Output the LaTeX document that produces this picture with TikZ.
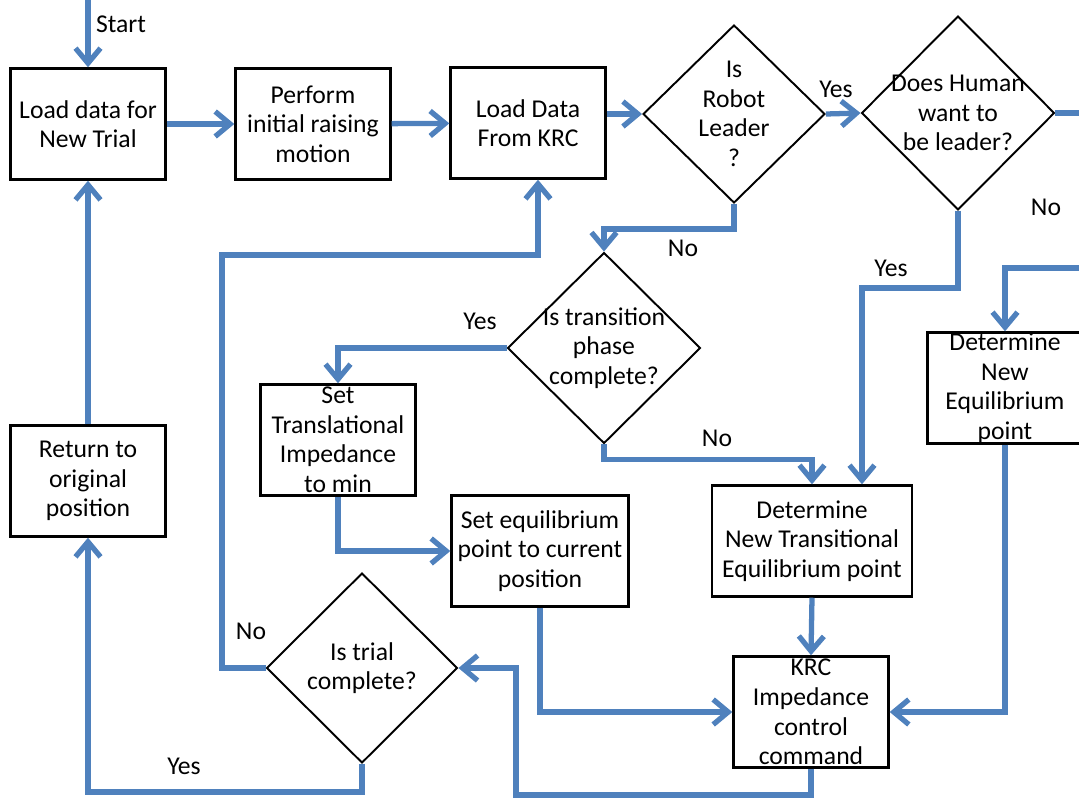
\documentclass[tikz,border=0pt]{standalone}
\usepackage{fontspec}
\setmainfont{Carlito}
\usetikzlibrary{shapes.geometric,arrows.meta}
\definecolor{flowblue}{RGB}{79,129,189}

\tikzset{
    procbox/.style={draw=black, line width=1.4pt, rectangle, inner sep=0pt, align=center,
        minimum width=3.1cm, minimum height=2.22cm, font=\fontsize{14.6pt}{16.8pt}\selectfont},
    decision/.style={draw=black, line width=1.1pt, diamond, inner sep=0pt},
    flow/.style={draw=flowblue, line width=3pt,
        -{Straight Barb[length=3mm, width=5mm]}},
    branch/.style={font=\fontsize{14.6pt}{16.8pt}\selectfont, inner sep=0pt},
    qtext/.style={align=center, font=\fontsize{14.6pt}{16.8pt}\selectfont}
}

\begin{document}
\begin{tikzpicture}[x=0.02cm, y=-0.02cm]
    \useasboundingbox (0,0) rectangle (1079,799);
    \clip (0,0) rectangle (1079,799);

    % Boxes
    \node[procbox] (load) at (88,124) {Load data for\\New Trial};
    \node[procbox] (raise) at (313,124) {Perform\\initial raising\\motion};
    \node[procbox] (krc) at (528,123) {Load Data\\From KRC};
    \node[procbox] (transl) at (338,440) {Set\\Translational\\Impedance\\to min};
    \node[procbox, minimum width=3.54cm] (setpt) at (540,551) {Set equilibrium\\point to current\\position};
    \node[procbox, minimum width=4cm] (transeq) at (812,541) {Determine\\New Transitional\\Equilibrium point};
    \node[procbox] (neweq) at (1005,388) {Determine\\New\\Equilibrium\\point};
    \node[procbox] (cmd) at (811,712) {KRC\\Impedance\\control\\command};
    \node[procbox] (ret) at (88,481) {Return to\\original\\position};

    % Decisions
    \node[decision, minimum width=3.64cm, minimum height=3.56cm,
        label={[qtext]center:Is\\Robot\\Leader\\?}] (robot) at (734,114) {};
    \node[decision, minimum width=3.86cm, minimum height=3.88cm,
        label={[qtext]center:Does Human\\want to\\be leader?}] (human) at (958,113) {};
    \node[decision, minimum width=3.86cm, minimum height=3.82cm,
        label={[qtext]center:Is transition\\phase\\complete?}] (phase) at (604,348) {};
    \node[decision, minimum width=3.82cm, minimum height=3.8cm,
        label={[qtext]center:Is trial\\complete?}] (trial) at (362,668) {};

    % Loop points
    \coordinate (top) at (88,0);
    \coordinate (offright) at (1095,268);
    \coordinate (loopn) at (222,255);
    \coordinate (loopb) at (516,795);

    % Main line
    \draw[flow] (top) -- (load.north);
    \draw[flow] (load) -- (raise);
    \draw[flow] (raise) -- (krc);
    \draw[flow] (krc.east |- robot.west) -- (robot.west);
    \draw[flow] (robot.east) -- (human.west);

    % Branches
    \draw[flow] (human.east) -| (offright) -| (neweq.north);
    \draw[flow] (human.south) -- ++(0,77) -| ([xshift=1cm]transeq.north);
    \draw[flow] (robot.south) -- ++(0,25) -| (phase.north);
    \draw[flow] (phase.west) -| (transl.north);
    \draw[flow] (phase.south) -- ++(0,15) -| (transeq.north);
    \draw[flow] (transl.south) |- (setpt.west);
    \draw[flow] (setpt.south) |- (cmd.west);
    \draw[flow] (transeq.south) -- (cmd.north);
    \draw[flow] (neweq.south) |- (cmd.east);
    \draw[flow] (cmd.south) |- (loopb) |- (trial.east);
    \draw[flow] (trial.west) -| (loopn) -| ([xshift=0.2cm]krc.south);
    \draw[flow] (trial.south) -- ++(0,28) -| (ret.south);
    \draw[flow] (ret.north) -- (load.south);

    % Labels
    \node[branch] (lstart) at (121,24) {Start};
    \node[branch] (lyes1) at (836,89) {Yes};
    \node[branch] (lno1) at (1046,207) {No};
    \node[branch] (lno2) at (683,248) {No};
    \node[branch] (lyes2) at (891,268) {Yes};
    \node[branch] (lyes3) at (480,321) {Yes};
    \node[branch] (lno3) at (717,438) {No};
    \node[branch] (lno4) at (251,631) {No};
    \node[branch] (lyes4) at (184,766) {Yes};
\end{tikzpicture}
\end{document}
